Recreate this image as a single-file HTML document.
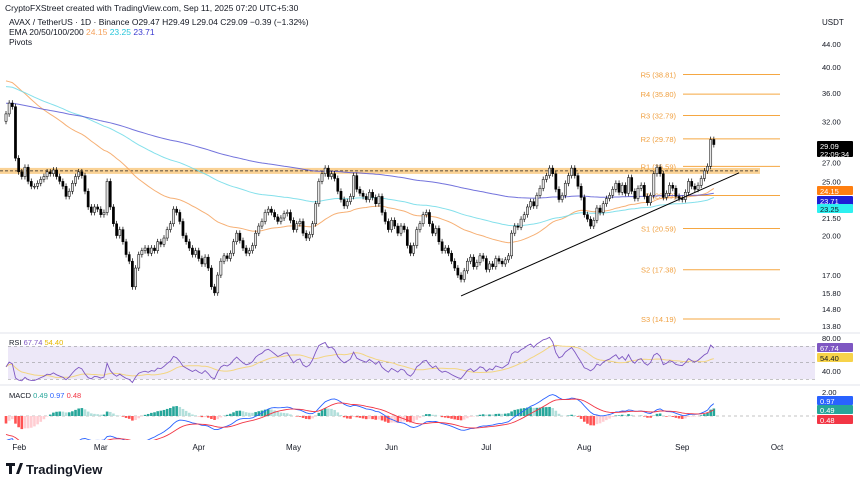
<!DOCTYPE html>
<html><head><meta charset="utf-8">
<style>
html,body{margin:0;padding:0;background:#fff;}
svg{display:block;font-family:"Liberation Sans",sans-serif;}
</style></head>
<body>
<svg id="chart" width="860" height="485" viewBox="0 0 860 485" xmlns="http://www.w3.org/2000/svg">
<defs>
<clipPath id="mainClip"><rect x="0" y="30" width="815" height="303"/></clipPath>
<clipPath id="rsiClip"><rect x="0" y="334" width="815" height="50"/></clipPath>
<clipPath id="macdClip"><rect x="0" y="386" width="815" height="54"/></clipPath>
</defs>
<rect width="860" height="485" fill="#ffffff"/>
<text x="5" y="11" font-size="8.5" fill="#131722">CryptoFXStreet created with TradingView.com, Sep 11, 2025 07:20 UTC+5:30</text>
<text x="9" y="25" font-size="8.5" fill="#131722">AVAX / TetherUS · 1D · Binance  O29.47  H29.49  L29.04  C29.09  −0.39 (−1.32%)</text>
<text x="9" y="35" font-size="8.5" fill="#131722">EMA 20/50/100/200 <tspan fill="#f5a25d">24.15</tspan> <tspan fill="#26c6da">23.25</tspan> <tspan fill="#3a3ad0">23.71</tspan></text>
<text x="9" y="45" font-size="8.5" fill="#131722">Pivots</text>
<text x="822" y="25" font-size="8" fill="#131722">USDT</text>
<g id="main" clip-path="url(#mainClip)"></g>
<g id="axis"></g>
<line x1="0" y1="333" x2="860" y2="333" stroke="#e0e3eb" stroke-width="1"/>
<line x1="0" y1="385" x2="860" y2="385" stroke="#e0e3eb" stroke-width="1"/>
<g id="rsi"></g>
<g id="macd"></g>
<g id="time"></g>
<g>
<path d="M6 463h9v3h-3v8h-3v-8h-3z M16 474l4-11h3l-4 11z" fill="#131722"/>
<text x="26" y="474" font-size="13" font-weight="bold" fill="#131722">TradingView</text>
</g>
</svg>
<script>
const closes = [33,34.5,34,27.5,
26,25.5,26.5,25,24.5,
24.5,24.8,25.2,25.5,26,25.8,26.2,25.5,25,24.5,23.5,24,24.8,25.5,26,25.6,
24,22.5,22,22.5,22.3,21.8,22,25,
22.5,21,20,20.5,19.5,18.5,18,16.2,
17.5,18.5,18.8,19,18.6,19,18.8,19.5,
19.3,19.8,20.5,21,22.3,22,21.2,20,
19.5,19,18.5,18.8,18.2,17.8,18.3,17.5,16.2,15.8,
17,18,18.4,18.2,18.6,19.5,20.2,19.6,
19,18.6,18.8,19.2,20.2,20.8,21.2,22,
22.3,22,21.6,21.2,21.5,21.9,22,21.3,20.5,21,
21.2,20.2,19.8,20.1,21,22.8,25,25.8,
26.4,25.5,25.8,25.3,24,23.2,
22.6,23,23.5,25.6,24.2,23.8,23.5,23.2,23.9,23.4,
22.8,23.5,22,21.2,20.5,21.3,20.8,
20.2,20.8,20.5,19.2,18.6,19.2,20.5,
21,21.8,22,21,20.2,20.6,
19.5,18.8,19,18.6,18,17.5,17,16.7,17.3,
18,18.3,17.6,17.9,18.4,18.2,17.4,17.8,17.6,
18.2,18,17.8,18.1,18.4,20.2,20.8,20.7,
21.4,21.8,22.5,23,22.6,23.6,24.3,25.2,25.6,26.4,
25.8,24.2,23.2,23.6,24.8,25.6,26.4,25.6,
24.5,23.4,21.8,21.4,20.8,21.3,22.4,22,22.8,
23.3,23.6,24.2,24.8,23.9,24.6,23.8,25.4,
24,23.3,24.3,24.6,23.5,22.9,23.6,25.8,
26.5,25.8,23.4,23.8,24.6,24.3,23.5,23.3,
23.2,23.9,25,24.5,24.2,24.6,25.3,26.1,26.6,
29.7,29.09];
const pivotNames = ["R5","R4","R3","R2","R1","P","S1","S2","S3"];
const pivotValues = [38.81,35.80,32.79,29.78,26.59,23.59,20.59,17.38,14.19];
const priceTicks = [44,40,36,32,27,25,21.5,20,17,15.8,14.8,13.8];
const priceTickLabels = ["44.00","40.00","36.00","32.00","27.00","25.00","21.50","20.00","17.00","15.80","14.80","13.80"];
const monthLabels = ["Feb","Mar","Apr","May","Jun","Jul","Aug","Sep","Oct"];
const monthDayIndex = [2,30,61,91,122,152,183,214,244];
const resistanceZone = 26.1;
const trendStart = [144,15.6];
const trendEnd = [232,25.9];
const rsiTicks = [80,40];

const NS="http://www.w3.org/2000/svg";
function mk(tag,attrs,parent){const e=document.createElementNS(NS,tag);for(const k in attrs)e.setAttribute(k,attrs[k]);parent.appendChild(e);return e;}
const X0=6, STEP=3.16;
function xS(i){return X0+i*STEP;}
function yP(p){return 44+(Math.log(44)-Math.log(p))*243;}
function yR(v){return 338+(80-v)*0.825;}
function yM(v){return 416-v*12;}

const main=document.getElementById('main');
const axis=document.getElementById('axis');

let z=mk('rect',{x:0,y:yP(resistanceZone)-3,width:760,height:6,fill:'#f9c77a',opacity:0.8},main);


let zl=mk('line',{x1:0,y1:yP(resistanceZone),x2:760,y2:yP(resistanceZone),stroke:'#222','stroke-width':0.8,'stroke-dasharray':'3,2'},main);



pivotValues.forEach((v,k)=>{
  const y=yP(v);
  const l=mk('line',{x1:683,y1:y,x2:780,y2:y,stroke:'#f5a742','stroke-width':1},main);
  
  
  const t=mk('text',{x:676,y:y+3,'font-size':7.5,fill:'#f0a040','text-anchor':'end'},main);
  t.textContent=pivotNames[k]+" ("+v.toFixed(2)+")";
  
  
});

function ema(arr,period,seed){const a=2/(period+1);let e=seed;return arr.map(c=>{e=e+a*(c-e);return e;});}
const emaSets=[[ema(closes,50,38),'#f5a25d','ema-orange'],[ema(closes,100,37),'#6fdbe8','ema-cyan'],[ema(closes,200,34.5),'#5b5bd6','ema-blue']];
emaSets.forEach(s=>{
  const d=s[0].map((v,i)=>(i?'L':'M')+xS(i).toFixed(1)+','+yP(v).toFixed(1)).join('');
  const p=mk('path',{d:d,fill:'none',stroke:s[1],'stroke-width':1,opacity:0.85},main);
  
  
});

closes.forEach((c,i)=>{
  const o=i?closes[i-1]:c*0.97;
  const hi=Math.max(o,c)*1.012, lo=Math.min(o,c)*0.988;
  const x=xS(i);
  const w=mk('line',{x1:x,y1:yP(hi),x2:x,y2:yP(lo),stroke:'#000','stroke-width':0.7},main);
  
  
  const top=yP(Math.max(o,c)), bot=yP(Math.min(o,c));
  const up=c>=o;
  const b=mk('rect',{x:x-1.1,y:top,width:2.2,height:Math.max(0.8,bot-top),fill:up?'#e6e6e6':'#000',stroke:'#000','stroke-width':0.5},main);
  
  
});

let tl=mk('line',{x1:xS(trendStart[0]),y1:yP(trendStart[1]),x2:xS(trendEnd[0]),y2:yP(trendEnd[1]),stroke:'#000','stroke-width':1},main);



priceTicks.forEach((v,k)=>{
  const t=mk('text',{x:822,y:yP(v)+3,'font-size':7.5,fill:'#131722'},axis);
  t.textContent=priceTickLabels[k];
  
  
});
function box(parent,y,h,fill,lines,name,color){
  const g=mk('g',{},parent);
  
  
  mk('rect',{x:817,y:y,width:36,height:h,fill:fill,rx:1},g);
  lines.forEach((s,k)=>{const t=mk('text',{x:820,y:y+8+k*8,'font-size':7.5,fill:color||'#fff'},g);t.textContent=s;});
}
box(axis,141,16,'#000',[closes[closes.length-1].toFixed(2),'22:09:34'],'last-price-label');
box(axis,186,9,'#ff7f10',['24.15'],'ema-orange-label');
box(axis,196,9,'#1f1fd6',['23.71'],'ema-blue-label');
box(axis,204,9,'#2ef0f0',['23.25'],'ema-cyan-label','#131722');

const rsiG=document.getElementById('rsi');
let ag=0.4,al=0.5;const rsi=[45];
for(let i=1;i<closes.length;i++){const d=closes[i]-closes[i-1];ag=(ag*13+Math.max(d,0))/14;al=(al*13+Math.max(-d,0))/14;rsi.push(100-100/(1+ag/al));}
const rsiMa=rsi.map((v,i)=>{const s=rsi.slice(Math.max(0,i-13),i+1);return s.reduce((a,b)=>a+b,0)/s.length;});
let band=mk('rect',{x:8,y:yR(70),width:807,height:yR(30)-yR(70),fill:'#ede8f8'},rsiG);


[70,50,30].forEach(v=>{const l=mk('line',{x1:8,y1:yR(v),x2:815,y2:yR(v),stroke:'#888','stroke-width':0.6,'stroke-dasharray':'3,3'},rsiG);

});
const rc=mk('g',{'clip-path':'url(#rsiClip)'},rsiG);
let rm=mk('path',{d:rsiMa.map((v,i)=>(i?'L':'M')+xS(i).toFixed(1)+','+yR(v).toFixed(1)).join(''),fill:'none',stroke:'#f3d580','stroke-width':1},rc);


let rl=mk('path',{d:rsi.map((v,i)=>(i?'L':'M')+xS(i).toFixed(1)+','+yR(v).toFixed(1)).join(''),fill:'none',stroke:'#7e57c2','stroke-width':0.9},rc);


let rt=mk('text',{x:9,y:345,'font-size':7.5,fill:'#131722'},rsiG);
rt.innerHTML='RSI <tspan fill="#7e57c2">67.74</tspan> <tspan fill="#e6b800">54.40</tspan>';


rsiTicks.forEach(v=>{const t=mk('text',{x:822,y:yR(v)+3,'font-size':7.5,fill:'#131722'},rsiG);t.textContent=v.toFixed(2);

});
box(rsiG,343,9,'#7e57c2',['67.74'],'rsi-value-label');
box(rsiG,353,9,'#f7d34a',['54.40'],'rsi-ma-value-label','#131722');

const macdG=document.getElementById('macd');
const e12=ema(closes,12,35.5), e26=ema(closes,26,37.5);
const macd=e12.map((v,i)=>v-e26[i]);
const sig=ema(macd,9,-1.4);
const hist=macd.map((v,i)=>v-sig[i]);
let zl2=mk('line',{x1:8,y1:yM(0),x2:815,y2:yM(0),stroke:'#888','stroke-width':0.6,'stroke-dasharray':'3,3'},macdG);


const mc=mk('g',{'clip-path':'url(#macdClip)'},macdG);
hist.forEach((h,i)=>{
  const prev=i?hist[i-1]:0;
  const col=h>=0?(h>=prev?'#26a69a':'#b2dfdb'):(h<prev?'#ff5252':'#ffcdd2');
  const y0=yM(0),y1=yM(h*1.2);
  const r=mk('rect',{x:xS(i)-1.3,y:Math.min(y0,y1),width:2.6,height:Math.abs(y1-y0),fill:col},mc);
  
  
});
let ml=mk('path',{d:macd.map((v,i)=>(i?'L':'M')+xS(i).toFixed(1)+','+yM(v).toFixed(1)).join(''),fill:'none',stroke:'#2962ff','stroke-width':0.9},mc);


let sl=mk('path',{d:sig.map((v,i)=>(i?'L':'M')+xS(i).toFixed(1)+','+yM(v).toFixed(1)).join(''),fill:'none',stroke:'#f23645','stroke-width':0.9},mc);


let mt=mk('text',{x:9,y:398,'font-size':7.5,fill:'#131722'},macdG);
mt.innerHTML='MACD <tspan fill="#26a69a">0.49</tspan> <tspan fill="#2962ff">0.97</tspan> <tspan fill="#f23645">0.48</tspan>';


let m2=mk('text',{x:822,y:yM(2)+3,'font-size':7.5,fill:'#131722'},macdG);m2.textContent='2.00';


box(macdG,396,9,'#2962ff',['0.97'],'macd-value-label');
box(macdG,405,9,'#26a69a',['0.49'],'macd-hist-label');
box(macdG,415,9,'#f23645',['0.48'],'macd-signal-label');

const tg=document.getElementById('time');
monthLabels.forEach((m,k)=>{const t=mk('text',{x:xS(monthDayIndex[k]),y:450,'font-size':8,fill:'#131722','text-anchor':k===0?'start':'middle'},tg);t.textContent=m;

});
</script>
</body></html>
